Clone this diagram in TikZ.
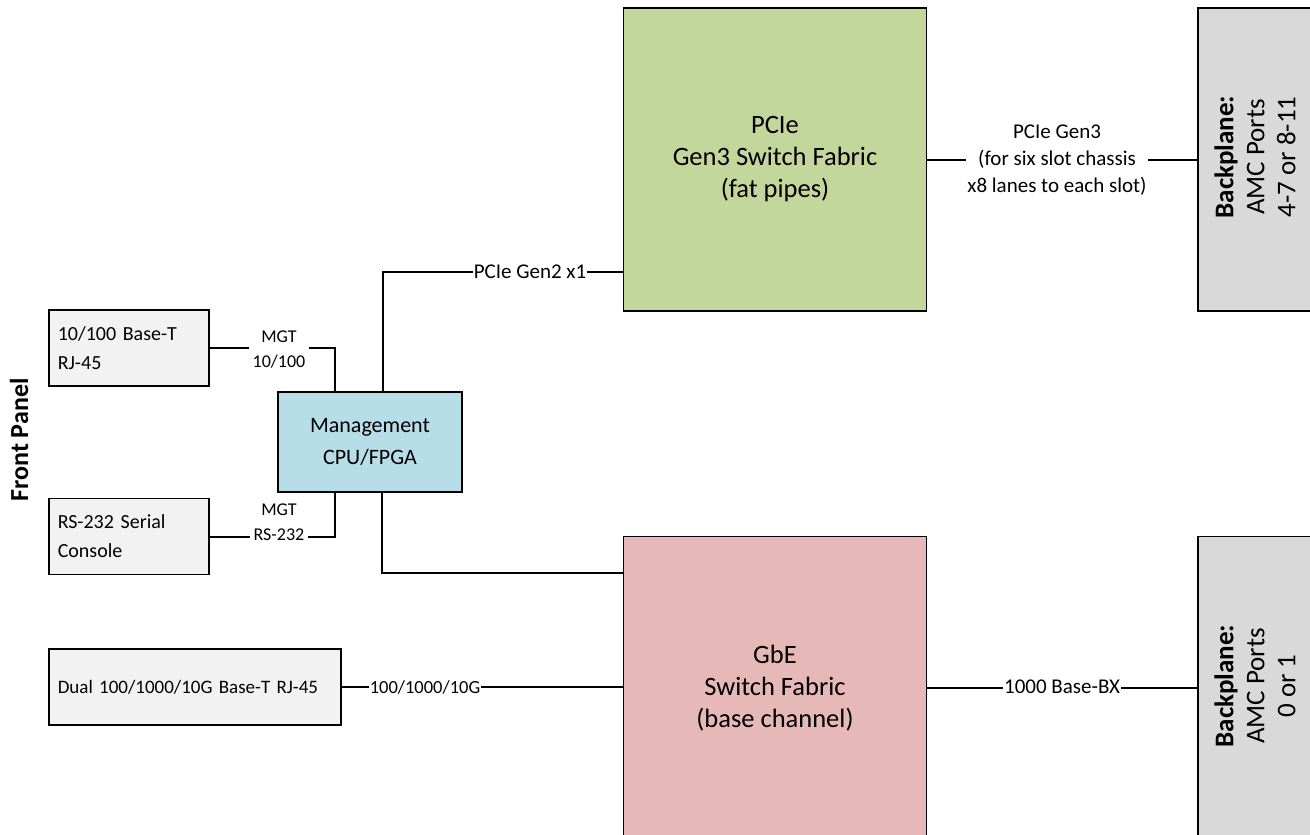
\documentclass[tikz,border=0pt]{standalone}
\usepackage{fontspec}
\setmainfont{Carlito}
\usepackage{tikz}
\usetikzlibrary{calc}

\definecolor{pcigreen}{HTML}{C3D69B}
\definecolor{gbepink}{HTML}{E6B9B8}
\definecolor{mgmtblue}{HTML}{B7DEE8}
\definecolor{portgray}{HTML}{F2F2F2}
\definecolor{planegray}{HTML}{D9D9D9}

\begin{document}
\begin{tikzpicture}[x=1pt, y=-1pt,
    linktext/.style={font=\fontsize{21}{27}\selectfont},
    portbox/.style={draw, line width=1.5pt, fill=portgray, align=left,
        font=\fontsize{20}{29}\selectfont, inner xsep=9pt, minimum height=76pt, anchor=west},
    fabricbox/.style={draw, line width=1.5pt, align=center,
        font=\fontsize{26.5}{32}\selectfont, minimum width=303pt, minimum height=303pt},
    planebox/.style={draw, line width=1.5pt, fill=planegray,
        rotate=90, minimum width=303pt, minimum height=124pt},
    planetext/.style={rotate=90, align=center, font=\fontsize{27}{31}\selectfont},
    link/.style={line width=2pt},
    tag/.style={linktext, fill=white, align=center, inner xsep=1pt, inner ysep=1pt}]

    \useasboundingbox (0,0) rectangle (1310,835);
    \clip (0,0) rectangle (1310,835);

    % Front panel
    \node[rotate=90, font=\fontsize{26}{30}\selectfont\bfseries] (front) at (19,440) {Front Panel};
    \node[portbox, text width=142pt] (eth) at (48,348) {10/100 Base-T\\RJ-45};
    \node[portbox, text width=142pt] (serial) at (48,536.5) {RS-232 Serial\\Console};
    \node[portbox, text width=274pt, font=\fontsize{19}{27}\selectfont] (dual) at (48,687) {Dual 100/1000/10G Base-T RJ-45};

    % Management CPU
    \node[draw, line width=1.5pt, fill=mgmtblue, align=center, font=\fontsize{22}{32}\selectfont,
        minimum width=184pt, minimum height=100pt] (mgmt) at (370,442) {Management\\CPU/FPGA};

    % Switch fabrics
    \node[fabricbox, fill=pcigreen] (pcie) at (775,159.5) {PCIe\\Gen3 Switch Fabric\\(fat pipes)};
    \node[fabricbox, fill=gbepink] (gbe) at (775,688) {GbE\\Switch Fabric\\(base channel)};

    % Backplane
    \node[planebox] (bpfat) at (1260,159.5) {};
    \node[planetext] (bpfattext) at (1255,157) {\textbf{Backplane:}\\AMC Ports\\4-7 or 8-11};
    \node[planebox] (bpbase) at (1260,688) {};
    \node[planetext] (bpbasetext) at (1255,686) {\textbf{Backplane:}\\AMC Ports\\0 or 1};

    % Links to management
    \coordinate (m1) at ($(mgmt.north)+(-35,0)$);
    \coordinate (m2) at ($(mgmt.north)+(13,0)$);
    \coordinate (m3) at ($(mgmt.south)+(-35,0)$);
    \coordinate (m4) at ($(mgmt.south)+(12,0)$);
    \draw[link] (eth.east) -- (m1 |- eth.east) -- (m1);
    \node[tag, inner xsep=4pt, font=\fontsize{18}{25}\selectfont] (mgteth) at (279,350) {MGT\\10/100};
    \draw[link] (serial.east) -- (m3 |- serial.east) -- (m3);
    \node[tag, inner xsep=4pt, font=\fontsize{18}{25}\selectfont] (mgtser) at (279,522) {MGT\\RS-232};
    \draw[link] (m2) |- (pcie.west |- 0,272);
    \node[tag] (gen2) at (530,272) {PCIe Gen2 x1};
    \draw[link] (m4) |- (gbe.west |- 0,573);

    % Links to backplane
    \draw[link] (dual.east) -- (gbe.west |- dual.east);
    \node[tag, font=\fontsize{18.5}{25}\selectfont] (tenG) at (425,687) {100/1000/10G};
    \draw[link] (pcie.east) -- (pcie.east -| bpfat.north);
    \node[tag] (gen3) at (1057,160) {PCIe Gen3\\(for six slot chassis\\x8 lanes to each slot)};
    \draw[link] (gbe.east) -- (gbe.east -| bpbase.north);
    \node[tag] (bx) at (1062,687) {1000 Base-BX};
\end{tikzpicture}
\end{document}
